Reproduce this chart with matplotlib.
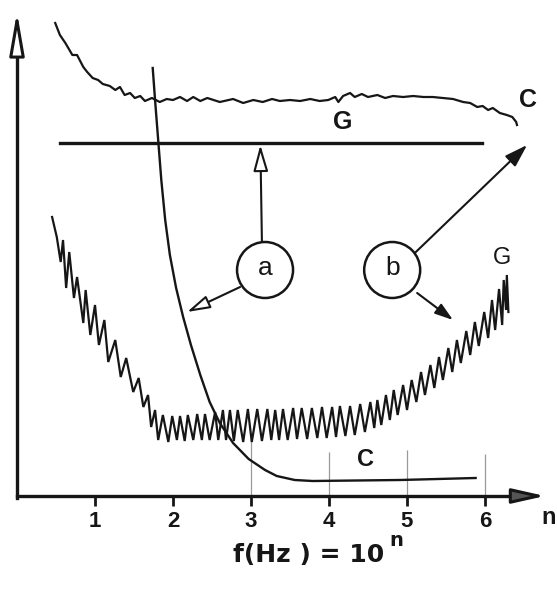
import matplotlib
matplotlib.use("Agg")
import matplotlib.pyplot as plt
from matplotlib.patches import Ellipse

plt.rcParams['font.family'] = ['Liberation Sans', 'DejaVu Sans']

# ---------------- data (x in n = log10 f, y in arbitrary units) ----------------
n_ticks = [1, 2, 3, 4, 5, 6]
tick_labels = ['1', '2', '3', '4', '5', '6']

# upper wavy "C" trace
c_top_n = [0.49, 0.55, 0.62, 0.71, 0.77, 0.85, 0.90, 0.97, 1.04, 1.10,
           1.19, 1.26, 1.32, 1.38, 1.45, 1.51, 1.58, 1.64, 1.73, 1.83,
           1.92, 2.00, 2.09, 2.18, 2.26, 2.35, 2.44, 2.60, 2.77, 2.90,
           3.03, 3.15, 3.27, 3.37, 3.50, 3.63, 3.76, 3.88, 3.99, 4.08,
           4.12, 4.18, 4.27, 4.33, 4.42, 4.50, 4.62, 4.72, 4.82, 4.95,
           5.08, 5.21, 5.33, 5.46, 5.59, 5.72, 5.81, 5.90, 5.97, 6.04,
           6.10, 6.19, 6.28, 6.35, 6.40, 6.41]
c_top_y = [471, 459, 451, 439, 439, 427, 422, 416, 414, 410,
           408, 404, 407, 399, 401, 396, 398, 393, 396, 392,
           395, 394, 397, 393, 397, 393, 396, 392, 395, 391,
           394, 392, 395, 393, 394, 393, 395, 393, 394, 397,
           392, 398, 401, 397, 400, 397, 399, 396, 398, 397,
           398, 397, 397, 396, 395, 392, 391, 387, 388, 384,
           386, 381, 379, 377, 372, 369]

# horizontal "G" line
g_line_n = [0.55, 5.96]
g_line_y = [351, 351]

# steep "C" curve
c_low_n = [1.74, 1.77, 1.81, 1.85, 1.90, 1.96, 2.04, 2.13, 2.23, 2.35,
           2.47, 2.60, 2.77, 2.97, 3.18, 3.33, 3.56, 3.79, 4.91, 5.88]
c_low_y = [426, 394, 354, 314, 274, 239, 206, 177, 149, 119,
           92, 71, 51, 35, 24, 18, 14, 13, 14, 16]

# oscillating "G" trace
g_osc_n = [0.45, 0.51, 0.56, 0.59, 0.63, 0.67, 0.73, 0.77, 0.85, 0.88,
           0.94, 1.00, 1.05, 1.12, 1.17, 1.26, 1.33, 1.40, 1.49, 1.56,
           1.62, 1.68, 1.72, 1.77, 1.81, 1.87, 1.94, 1.99, 2.05, 2.09,
           2.15, 2.19, 2.26, 2.31, 2.37, 2.41, 2.47, 2.54, 2.58, 2.64,
           2.68, 2.73, 2.78, 2.83, 2.90, 2.96, 3.01, 3.08, 3.14, 3.21,
           3.26, 3.31, 3.36, 3.41, 3.47, 3.54, 3.59, 3.65, 3.72, 3.78,
           3.85, 3.91, 3.97, 4.04, 4.09, 4.14, 4.21, 4.27, 4.33, 4.40,
           4.46, 4.53, 4.58, 4.62,
           4.67, 4.73, 4.78, 4.83, 4.88, 4.95, 5.00, 5.06, 5.12, 5.18,
           5.23, 5.30, 5.35, 5.41, 5.46, 5.53, 5.58, 5.64, 5.69, 5.76,
           5.81, 5.87, 5.92, 5.99, 6.04, 6.09, 6.13, 6.18, 6.22, 6.24,
           6.27, 6.28, 6.30]
g_osc_y = [277, 257, 232, 254, 206, 242, 196, 217, 171, 204,
           159, 189, 149, 174, 132, 154, 117, 136, 102, 116,
           87, 99, 67, 84, 54, 79, 52, 78, 54, 78,
           53, 79, 54, 80, 54, 80, 54, 82, 54, 84,
           54, 84, 53, 84, 52, 85, 52, 85, 53, 85,
           54, 84, 54, 85, 54, 86, 55, 86, 55, 86,
           56, 87, 56, 87, 57, 88, 58, 88, 59, 90,
           62, 92, 66, 94,
           69, 99, 74, 104, 79, 109, 84, 114, 92, 122,
           99, 129, 106, 137, 114, 146, 122, 154, 131, 163,
           139, 172, 148, 182, 156, 194, 164, 205, 169, 214,
           184, 219, 182]

# thin vertical guide lines
grid_n = [3, 4, 5, 6]
grid_top = [56, 42, 44, 40]

# ---------------- figure ----------------
INK = '#161616'
fig = plt.figure(figsize=(5.57, 5.89), dpi=100)
ax = fig.add_axes([0, 0, 1, 1])
ax.set_xlim(-17 / 78, 540 / 78)
ax.set_ylim(-95, 494)

for s in ['top', 'right']:
    ax.spines[s].set_visible(False)
ax.spines['left'].set_position(('data', 0))
ax.spines['bottom'].set_position(('data', -2))
ax.spines['left'].set_bounds(-4, 450)
ax.spines['bottom'].set_bounds(0, 6.6)
for s in ['left', 'bottom']:
    ax.spines[s].set_linewidth(2.4)
    ax.spines[s].set_color(INK)

ax.set_yticks([])
ax.set_xticks(n_ticks, tick_labels)
ax.tick_params(axis='x', direction='out', length=7, width=2, pad=4,
               labelsize=16, colors=INK)
for lbl in ax.get_xticklabels():
    lbl.set_fontweight('bold')

# axis arrowheads
ax.annotate('', xy=(0, 482), xytext=(0, 440),
            arrowprops=dict(arrowstyle='-|>,head_length=26,head_width=4.5',
                            mutation_scale=1, lw=2.2, fc='white', ec=INK,
                            shrinkA=0, shrinkB=0))
ax.annotate('', xy=(6.77, -2), xytext=(6.55, -2),
            arrowprops=dict(arrowstyle='-|>,head_length=20,head_width=4.5',
                            mutation_scale=1, lw=2.2, fc='#555555', ec=INK,
                            shrinkA=0, shrinkB=0))

# guide lines
ax.vlines(grid_n, -2, grid_top, colors='#9a9a9a', lw=0.9)

# curves
ax.plot(c_top_n, c_top_y, color=INK, lw=1.6, solid_joinstyle='round')
ax.plot(g_line_n, g_line_y, color=INK, lw=2.4)
ax.plot(c_low_n, c_low_y, color=INK, lw=1.7)
ax.plot(g_osc_n, g_osc_y, color=INK, lw=1.6, solid_joinstyle='miter')

# circles a, b
for cx, lab in [(3.18, 'a'), (4.81, 'b')]:
    ax.add_patch(Ellipse((cx, 224), width=56 / 78, height=56, fill=False,
                         ec=INK, lw=1.8))
    ax.text(cx, 226, lab, ha='center', va='center', fontsize=19, color=INK)

def arrow(tail, tip, hl, hw, fc):
    ax.annotate('', xy=tip, xytext=tail,
                arrowprops=dict(arrowstyle=f'-|>,head_length={hl},head_width={hw}',
                                mutation_scale=1, lw=1.5, fc=fc, ec=INK,
                                shrinkA=0, shrinkB=0))

arrow((3.14, 252), (3.12, 349), 16, 4.5, 'white')
arrow((2.86, 207), (2.18, 182), 14, 4.0, 'white')
arrow((5.10, 241), (6.54, 349), 14, 4.5, INK)
arrow((5.13, 201), (5.59, 174), 11, 3.6, INK)

# labels
ax.text(4.18, 372, 'G', ha='center', va='center', fontsize=18,
        fontweight='bold', color=INK)
ax.text(6.55, 394, 'C', ha='center', va='center', fontsize=18,
        fontweight='bold', color=INK)
ax.text(6.22, 236, 'G', ha='center', va='center', fontsize=17, color=INK)
ax.text(4.47, 35, 'C', ha='center', va='center', fontsize=17,
        fontweight='bold', color=INK)
ax.text(6.91, -24, 'n', ha='right', va='center', fontsize=17,
        fontweight='bold', color=INK)
ax.text(3.74, -61, 'f(Hz ) = 10', ha='center', va='center', fontsize=18,
        fontweight='bold', color=INK, family='DejaVu Sans')
ax.text(4.86, -46, 'n', ha='center', va='center', fontsize=14,
        fontweight='bold', color=INK, family='DejaVu Sans')

fig.savefig('out.png', dpi=100)
